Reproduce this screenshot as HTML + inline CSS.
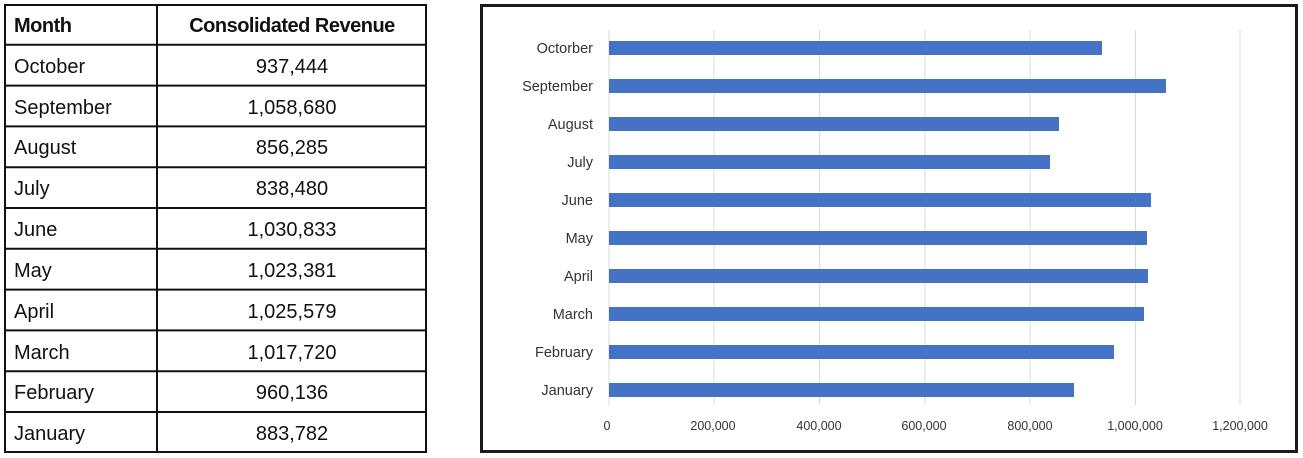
<!DOCTYPE html>
<html><head><style>
body{margin:0;width:1303px;height:458px;background:#fff;position:relative;overflow:hidden;font-family:"Liberation Sans",sans-serif}
#chart{position:absolute;left:480px;top:4px;width:812px;height:443px;border:3px solid #1a1a1a}
</style></head><body>
<div id="chart"></div>
<svg width="1303" height="458" style="position:absolute;left:0;top:0" font-family="Liberation Sans, sans-serif">
<g stroke="#111" stroke-width="2">
<rect x="5" y="5" width="421" height="447" fill="none"/>
<line x1="157" y1="4" x2="157" y2="453"/>
<line x1="4" y1="44.8" x2="427" y2="44.8"/><line x1="4" y1="85.6" x2="427" y2="85.6"/><line x1="4" y1="126.4" x2="427" y2="126.4"/><line x1="4" y1="167.2" x2="427" y2="167.2"/><line x1="4" y1="208" x2="427" y2="208"/><line x1="4" y1="248.8" x2="427" y2="248.8"/><line x1="4" y1="289.6" x2="427" y2="289.6"/><line x1="4" y1="330.4" x2="427" y2="330.4"/><line x1="4" y1="371.2" x2="427" y2="371.2"/><line x1="4" y1="412" x2="427" y2="412"/>
</g>
<g font-size="20" fill="#111">
<text x="14" y="32" font-weight="bold" letter-spacing="-0.5">Month</text>
<text x="292" y="32" font-weight="bold" letter-spacing="-0.5" text-anchor="middle">Consolidated Revenue</text>
<text x="14" y="73">October</text><text x="14" y="114">September</text><text x="14" y="154">August</text><text x="14" y="195">July</text><text x="14" y="236">June</text><text x="14" y="277">May</text><text x="14" y="318">April</text><text x="14" y="359">March</text><text x="14" y="399">February</text><text x="14" y="440">January</text>
<g text-anchor="middle">
<text x="292" y="73">937,444</text><text x="292" y="114">1,058,680</text><text x="292" y="154">856,285</text><text x="292" y="195">838,480</text><text x="292" y="236">1,030,833</text><text x="292" y="277">1,023,381</text><text x="292" y="318">1,025,579</text><text x="292" y="359">1,017,720</text><text x="292" y="399">960,136</text><text x="292" y="440">883,782</text>
</g>
</g>
<g stroke="#d9d9d9" stroke-width="1">
<line x1="609" y1="30" x2="609" y2="405"/><line x1="714" y1="30" x2="714" y2="405"/><line x1="819.5" y1="30" x2="819.5" y2="405"/><line x1="925" y1="30" x2="925" y2="405"/><line x1="1030" y1="30" x2="1030" y2="405"/><line x1="1135.5" y1="30" x2="1135.5" y2="405"/><line x1="1240" y1="30" x2="1240" y2="405"/>
</g>
<g fill="#4472c4">
<rect x="609" y="41" width="493" height="14"/>
<rect x="609" y="79" width="557" height="14"/>
<rect x="609" y="117" width="450" height="14"/>
<rect x="609" y="155" width="441" height="14"/>
<rect x="609" y="193" width="542" height="14"/>
<rect x="609" y="231" width="538" height="14"/>
<rect x="609" y="269" width="539" height="14"/>
<rect x="609" y="307" width="535" height="14"/>
<rect x="609" y="345" width="505" height="14"/>
<rect x="609" y="383" width="465" height="14"/>
</g>
<g font-size="14.5" fill="#333" text-anchor="end">
<text x="593" y="53">Octorber</text><text x="593" y="91">September</text><text x="593" y="129">August</text><text x="593" y="167">July</text><text x="593" y="205">June</text><text x="593" y="243">May</text><text x="593" y="281">April</text><text x="593" y="319">March</text><text x="593" y="357">February</text><text x="593" y="395">January</text>
</g>
<g font-size="12.5" fill="#333" text-anchor="middle">
<text x="607" y="430">0</text><text x="713" y="430">200,000</text><text x="819" y="430">400,000</text><text x="924" y="430">600,000</text><text x="1030" y="430">800,000</text><text x="1135" y="430">1,000,000</text><text x="1240" y="430">1,200,000</text>
</g>
</svg>
</body></html>
